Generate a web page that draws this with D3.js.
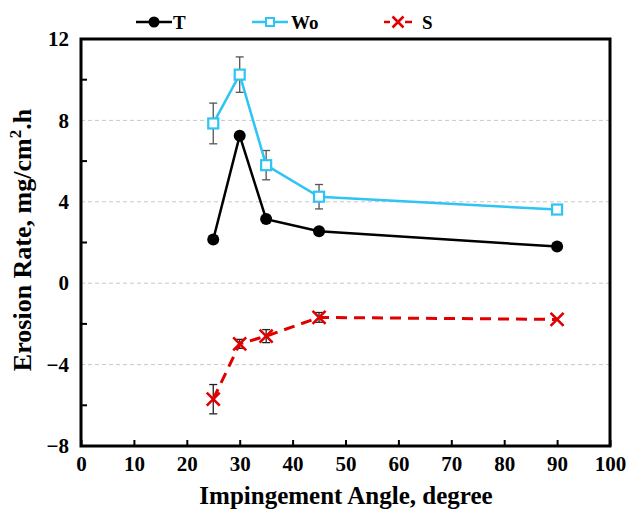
<!DOCTYPE html>
<html><head><meta charset="utf-8">
<script src="https://cdn.jsdelivr.net/npm/d3@7"></script>
<style>body{margin:0;background:#fff}</style>
</head><body>
<svg id="c" width="630" height="511"></svg>
<script>
const angles = [25, 30, 35, 45, 90];
const tValues = [2.15, 7.25, 3.15, 2.55, 1.8];
const woValues = [7.85, 10.25, 5.8, 4.25, 3.62];
const woErr = [1.0, 0.87, 0.72, 0.6, 0];
const sValues = [-5.7, -2.98, -2.6, -1.68, -1.78];
const sErr = [0.72, 0.22, 0.32, 0.24, 0];
const xTicks = [0,10,20,30,40,50,60,70,80,90,100];
const yTicks = [-8,-4,0,4,8,12];
const yMinor = [-6,-2,2,6,10];
const gridTicks = [-4,0,4,8];

const svg = d3.select("#c");
const L = 81, R = 610, T = 39, B = 446;
const x = d3.scaleLinear().domain([0,100]).range([L,R]);
const y = d3.scaleLinear().domain([-8,12]).range([B,T]);
const font = "'Liberation Serif','Times New Roman',serif";

// grid
svg.append("g").selectAll("line").data(gridTicks).join("line")
  .attr("x1",L).attr("x2",R).attr("y1",d=>y(d)).attr("y2",d=>y(d))
  .attr("stroke","#c8c8c8").attr("stroke-width",1).attr("stroke-dasharray","4,3");

// axes ticks
const xAxis = d3.axisBottom(x).tickValues(xTicks).tickSize(-6).tickPadding(10).tickFormat(d3.format("d"));
const gx = svg.append("g").attr("transform",`translate(0,${B})`).call(xAxis);
gx.select(".domain").remove();
gx.selectAll("line").attr("stroke","#000").attr("stroke-width",2);
gx.selectAll("text").attr("font-family",font).attr("font-weight","bold").attr("font-size",21).attr("fill","#000");

const yAxis = d3.axisLeft(y).tickValues(yTicks).tickSize(0).tickPadding(12).tickFormat(d3.format("d"));
const gy = svg.append("g").attr("transform",`translate(${L},0)`).call(yAxis);
gy.select(".domain").remove();
gy.selectAll("text").attr("font-family",font).attr("font-weight","bold").attr("font-size",21).attr("fill","#000");
svg.append("g").selectAll("line").data(yMinor).join("line")
  .attr("x1",L).attr("x2",L+6).attr("y1",d=>y(d)).attr("y2",d=>y(d))
  .attr("stroke","#000").attr("stroke-width",2);

// frame
svg.append("rect").attr("x",L).attr("y",T).attr("width",R-L).attr("height",B-T)
  .attr("fill","none").attr("stroke","#000").attr("stroke-width",3);

// error bars
function errBars(vals, errs, color){
  const g = svg.append("g").attr("stroke",color).attr("stroke-width",1.3);
  angles.forEach((a,i)=>{
    if(!errs[i]) return;
    const cx = x(a), y1 = y(vals[i]+errs[i]), y2 = y(vals[i]-errs[i]);
    g.append("line").attr("x1",cx).attr("x2",cx).attr("y1",y1).attr("y2",y2);
    g.append("line").attr("x1",cx-4).attr("x2",cx+4).attr("y1",y1).attr("y2",y1);
    g.append("line").attr("x1",cx-4).attr("x2",cx+4).attr("y1",y2).attr("y2",y2);
  });
}
errBars(woValues, woErr, "#555");
errBars(sValues, sErr, "#222");

const line = d3.line().x((d,i)=>x(angles[i])).y(d=>y(d));
const blue = "#2EC4F4", red = "#E00000";

// T
svg.append("path").datum(tValues).attr("d",line).attr("fill","none").attr("stroke","#000").attr("stroke-width",2.5);
svg.append("g").selectAll("circle").data(tValues).join("circle")
  .attr("cx",(d,i)=>x(angles[i])).attr("cy",d=>y(d)).attr("r",6).attr("fill","#000");

// Wo
svg.append("path").datum(woValues).attr("d",line).attr("fill","none").attr("stroke",blue).attr("stroke-width",2.5);
svg.append("g").selectAll("rect").data(woValues).join("rect")
  .attr("x",(d,i)=>x(angles[i])-5).attr("y",d=>y(d)-5).attr("width",10).attr("height",10)
  .attr("fill","#fff").attr("stroke",blue).attr("stroke-width",2.2);

// S
svg.append("path").datum(sValues).attr("d",line).attr("fill","none").attr("stroke",red).attr("stroke-width",3).attr("stroke-dasharray","11,7");
const cross = (g,cx,cy,s)=>{
  g.append("path").attr("d",`M${cx-s},${cy-s}L${cx+s},${cy+s}M${cx-s},${cy+s}L${cx+s},${cy-s}`)
   .attr("stroke",red).attr("stroke-width",2.6).attr("fill","none");
};
const gs = svg.append("g");
sValues.forEach((v,i)=>cross(gs,x(angles[i]),y(v),6.5));

// legend
const ly = 22;
const lg = svg.append("g");
lg.append("line").attr("x1",136).attr("x2",172).attr("y1",ly).attr("y2",ly).attr("stroke","#000").attr("stroke-width",2.5);
lg.append("circle").attr("cx",154).attr("cy",ly).attr("r",5.5).attr("fill","#000");
lg.append("text").attr("x",173).attr("y",ly+7).text("T");
lg.append("line").attr("x1",252).attr("x2",288).attr("y1",ly).attr("y2",ly).attr("stroke",blue).attr("stroke-width",2.5);
lg.append("rect").attr("x",266).attr("y",ly-4).attr("width",8).attr("height",8).attr("fill","#fff").attr("stroke",blue).attr("stroke-width",2);
lg.append("text").attr("x",291).attr("y",ly+7).text("Wo");
lg.append("line").attr("x1",384).attr("x2",390).attr("y1",ly).attr("y2",ly).attr("stroke",red).attr("stroke-width",2.5);
lg.append("line").attr("x1",405).attr("x2",412).attr("y1",ly).attr("y2",ly).attr("stroke",red).attr("stroke-width",2.5);
cross(lg,398,ly,5.5);
lg.append("text").attr("x",422).attr("y",ly+7).text("S");
lg.selectAll("text").attr("font-family",font).attr("font-weight","bold").attr("font-size",19).attr("fill","#000");

// axis titles
svg.append("text").attr("x",346).attr("y",504).attr("text-anchor","middle")
  .attr("font-family",font).attr("font-weight","bold").attr("font-size",25).text("Impingement Angle, degree");
const yt = svg.append("text").attr("transform",`translate(31,240) rotate(-90)`).attr("text-anchor","middle")
  .attr("font-family",font).attr("font-weight","bold").attr("font-size",26);
yt.append("tspan").text("Erosion Rate, mg/cm");
yt.append("tspan").attr("font-size",17).attr("dy",-10).text("2");
yt.append("tspan").attr("dy",10).text(".h");
</script>
</body></html>
